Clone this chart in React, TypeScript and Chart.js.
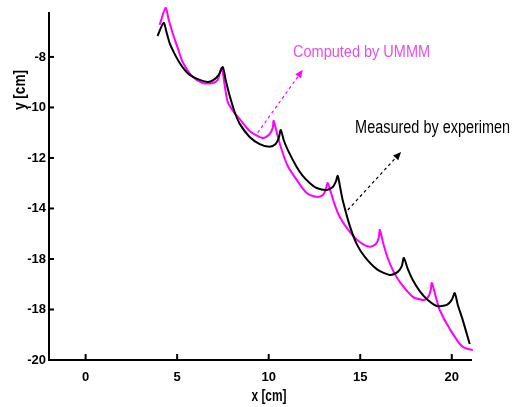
import React, { useEffect, useRef } from "react";
import { Chart, registerables } from "chart.js";

Chart.register(...registerables);

const X_TICKS = [0, 5, 10, 15, 20];
const Y_TICKS = [-20, -18, -16, -14, -12, -10, -8];
const Y_TICK_LABELS = ["-20", "-18", "-18", "-14", "-12", "-10", "-8"];

const measuredX = [3.93, 4.26, 4.43, 4.59, 4.86, 5.14, 5.41, 5.68, 6.23, 6.67, 6.99, 7.27, 7.49, 7.65, 7.87, 8.14, 8.42, 8.96, 9.51, 10.05, 10.38, 10.55, 10.66, 10.82, 11.04, 11.53, 11.86, 12.24, 12.62, 13.17, 13.5, 13.66, 13.77, 13.93, 14.04, 14.43, 14.81, 15.25, 15.9, 16.61, 17.05, 17.27, 17.38, 17.6, 17.87, 18.25, 18.63, 19.18, 19.73, 20.0, 20.16, 20.33, 20.6, 20.98];
const measuredY = [-7.17, -6.65, -7.05, -7.45, -7.88, -8.24, -8.51, -8.71, -8.91, -8.99, -8.91, -8.71, -8.4, -8.91, -9.54, -10.18, -10.65, -11.17, -11.45, -11.56, -11.45, -11.21, -10.89, -11.29, -11.68, -12.36, -12.71, -12.99, -13.19, -13.27, -13.15, -12.95, -12.71, -13.27, -13.66, -14.69, -15.41, -15.92, -16.4, -16.63, -16.51, -16.28, -15.96, -16.4, -16.83, -17.27, -17.58, -17.86, -17.82, -17.62, -17.35, -17.82, -18.42, -19.37];

const computedX = [4.04, 4.37, 4.54, 4.75, 5.03, 5.3, 5.85, 6.39, 6.94, 7.21, 7.43, 7.6, 7.76, 8.09, 8.42, 8.96, 9.67, 10.05, 10.22, 10.27, 10.49, 10.71, 11.04, 11.53, 12.08, 12.62, 12.95, 13.11, 13.22, 13.39, 13.61, 13.88, 14.43, 14.97, 15.52, 15.85, 16.01, 16.07, 16.28, 16.5, 16.78, 17.16, 17.87, 18.47, 18.74, 18.85, 18.91, 19.13, 19.34, 19.89, 20.55, 21.15, 21.48, 21.8];
const computedY = [-6.73, -6.06, -6.53, -7.05, -7.64, -8.2, -8.79, -9.03, -9.03, -8.91, -8.44, -9.15, -9.78, -10.18, -10.46, -10.93, -11.21, -11.05, -10.81, -10.53, -11.13, -11.68, -12.32, -12.87, -13.39, -13.54, -13.47, -13.27, -12.99, -13.35, -13.86, -14.34, -14.93, -15.33, -15.52, -15.41, -15.17, -14.85, -15.45, -15.96, -16.44, -16.91, -17.5, -17.62, -17.47, -17.23, -16.95, -17.5, -18.02, -18.77, -19.45, -19.6, -19.52, -19.33];

// annotation arrows in data coordinates: [x0, y0, x1(tip), y1(tip)]
const computedArrow = [9.4, -11.0, 11.86, -8.51];
const measuredArrow = [14.32, -14.06, 17.23, -11.76];
const computedLabel = { text: "Computed by UMMM", x: 11.33, y: -8.0 };
const measuredLabel = { text: "Measured by experimen", x: 14.72, y: -11.0 };

const MAGENTA = "#ff00ff";
const MAGENTA_TEXT = "#e650e6";
const SANS = "'Liberation Sans', Arial, Helvetica, sans-serif";

function squeezedText(ctx: any, text: string, x: number, y: number, font: string, width: number, align: "left" | "center") {
  ctx.save();
  ctx.font = font;
  const w = ctx.measureText(text).width;
  const k = width / w;
  ctx.translate(x, y);
  ctx.scale(k, 1);
  ctx.textAlign = align;
  ctx.fillText(text, 0, 0);
  ctx.restore();
}

const overlay = {
  id: "overlay",
  afterDraw(chart: any) {
    const ctx = chart.ctx;
    const xs = chart.scales.x;
    const ys = chart.scales.y;
    const ca = chart.chartArea;
    ctx.save();
    ctx.strokeStyle = "#000";
    ctx.lineWidth = 2;
    X_TICKS.forEach((v) => {
      const px = xs.getPixelForValue(v);
      ctx.beginPath();
      ctx.moveTo(px, ca.bottom);
      ctx.lineTo(px, ca.bottom - 6);
      ctx.stroke();
    });
    Y_TICKS.forEach((v) => {
      const py = ys.getPixelForValue(v);
      ctx.beginPath();
      ctx.moveTo(ca.left, py);
      ctx.lineTo(ca.left + 5, py);
      ctx.stroke();
    });
    const arrow = (a: number[], color: string, dash: number[]) => {
      const x0 = xs.getPixelForValue(a[0]);
      const y0 = ys.getPixelForValue(a[1]);
      const x1 = xs.getPixelForValue(a[2]);
      const y1 = ys.getPixelForValue(a[3]);
      const ang = Math.atan2(y1 - y0, x1 - x0);
      ctx.strokeStyle = color;
      ctx.fillStyle = color;
      ctx.lineWidth = 1.2;
      ctx.setLineDash(dash);
      ctx.beginPath();
      ctx.moveTo(x0, y0);
      ctx.lineTo(x1 - 6 * Math.cos(ang), y1 - 6 * Math.sin(ang));
      ctx.stroke();
      ctx.setLineDash([]);
      ctx.beginPath();
      ctx.moveTo(x1, y1);
      ctx.lineTo(x1 - 8 * Math.cos(ang) + 3.5 * Math.sin(ang), y1 - 8 * Math.sin(ang) - 3.5 * Math.cos(ang));
      ctx.lineTo(x1 - 8 * Math.cos(ang) - 3.5 * Math.sin(ang), y1 - 8 * Math.sin(ang) + 3.5 * Math.cos(ang));
      ctx.closePath();
      ctx.fill();
    };
    arrow(computedArrow, MAGENTA, [3, 3]);
    arrow(measuredArrow, "#000", [3, 3]);
    ctx.textBaseline = "alphabetic";
    ctx.fillStyle = MAGENTA_TEXT;
    squeezedText(ctx, computedLabel.text, xs.getPixelForValue(computedLabel.x), ys.getPixelForValue(computedLabel.y), `17px ${SANS}`, 137, "left");
    ctx.fillStyle = "#000";
    squeezedText(ctx, measuredLabel.text, xs.getPixelForValue(measuredLabel.x), ys.getPixelForValue(measuredLabel.y), `18px ${SANS}`, 155, "left");
    ctx.textBaseline = "middle";
    squeezedText(ctx, "x [cm]", 269, 397, `bold 16px ${SANS}`, 35, "center");
    ctx.save();
    ctx.translate(21, 90);
    ctx.rotate(-Math.PI / 2);
    squeezedText(ctx, "y [cm]", 0, 0, `bold 16px ${SANS}`, 40, "center");
    ctx.restore();
    ctx.restore();
  },
};

export default function App() {
  const ref = useRef<HTMLCanvasElement>(null);
  useEffect(() => {
    document.body.style.margin = "0";
    const tickFont = { family: SANS, size: 13, weight: "bold" as const };
    const chart = new Chart(ref.current!, {
      type: "line",
      data: {
        datasets: [
          {
            label: "Measured by experiment",
            data: measuredX.map((x, i) => ({ x, y: measuredY[i] })),
            borderColor: "#000",
            borderWidth: 2,
            pointRadius: 0,
            tension: 0.25,
            clip: false as any,
          },
          {
            label: "Computed by UMMM",
            data: computedX.map((x, i) => ({ x, y: computedY[i] })),
            borderColor: MAGENTA,
            borderWidth: 2,
            pointRadius: 0,
            tension: 0.25,
            clip: false as any,
          },
        ],
      },
      options: {
        animation: false,
        responsive: false,
        devicePixelRatio: 1,
        layout: { padding: { top: 13, right: 42, left: 0, bottom: 0 } },
        plugins: { legend: { display: false }, tooltip: { enabled: false } },
        scales: {
          x: {
            type: "linear",
            min: -2,
            max: 21.05,
            afterBuildTicks: (s: any) => {
              s.ticks = X_TICKS.map((v) => ({ value: v }));
            },
            afterFit: (s: any) => {
              s.height = 47;
            },
            grid: { drawOnChartArea: false, drawTicks: false },
            border: { display: true, color: "#000", width: 2 },
            ticks: { padding: 10, color: "#000", font: tickFont, maxRotation: 0 },
          },
          y: {
            type: "linear",
            min: -20,
            max: -6.26,
            afterBuildTicks: (s: any) => {
              s.ticks = Y_TICKS.map((v) => ({ value: v }));
            },
            afterFit: (s: any) => {
              s.width = 49;
            },
            grid: { drawOnChartArea: false, drawTicks: false },
            border: { display: true, color: "#000", width: 2 },
            ticks: {
              padding: 3,
              color: "#000",
              font: tickFont,
              callback: (v: any) => {
                const i = Y_TICKS.indexOf(Number(v));
                return i >= 0 ? Y_TICK_LABELS[i] : "";
              },
            },
          },
        },
      },
      plugins: [overlay],
    });
    return () => chart.destroy();
  }, []);
  return (
    <div style={{ width: 513, height: 407 }}>
      <canvas ref={ref} width={513} height={407} style={{ display: "block" }} />
    </div>
  );
}
